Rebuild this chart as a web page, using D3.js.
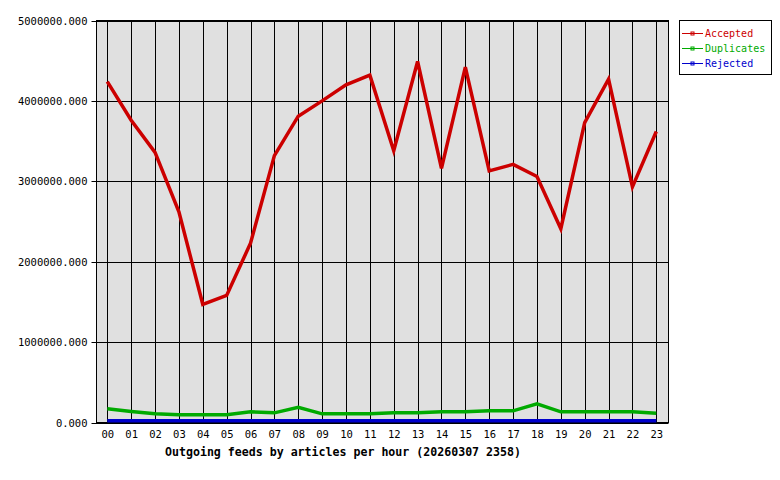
<!DOCTYPE html>
<html><head><meta charset="utf-8">
<script src="https://cdn.jsdelivr.net/npm/d3@7"></script>
<style>body{margin:0;background:#fff}</style>
</head><body>
<svg id="c" width="780" height="480"></svg>
<script>
const hours = ["00","01","02","03","04","05","06","07","08","09","10","11","12","13","14","15","16","17","18","19","20","21","22","23"];
const accepted = [4240000,3760000,3360000,2620000,1470000,1580000,2230000,3320000,3810000,4000000,4200000,4320000,3380000,4490000,3160000,4420000,3130000,3210000,3060000,2410000,3730000,4270000,2930000,3620000];
const duplicates = [170000,137000,108000,96000,96000,96000,133000,120000,190000,108000,108000,108000,120000,120000,133000,133000,145000,145000,232000,133000,133000,133000,133000,116000];
const rejected = [22000,22000,22000,22000,22000,22000,22000,22000,22000,22000,22000,22000,22000,22000,22000,22000,22000,22000,22000,22000,22000,22000,22000,22000];
const yTicks = [0,1000000,2000000,3000000,4000000,5000000];
const seriesNames = ["Accepted","Duplicates","Rejected"];
const seriesColors = ["#cc0000","#00aa00","#0000cc"];
const title = "Outgoing feeds by articles per hour (20260307 2358)";

const svg = d3.select("#c");
const L=96.5, R=668.5, T=20.5, B=422.5;
const x = d3.scalePoint().domain(hours).range([107.3,656.3]);
const y = d3.scaleLinear().domain([0,5000000]).range([B,T]);
const font = "'DejaVu Sans Mono', 'Liberation Mono', monospace";

svg.append("rect").attr("x",L).attr("y",T).attr("width",R-L).attr("height",B-T).attr("fill","#e0e0e0");

// grid
svg.append("g").selectAll("line").data(hours).join("line")
  .attr("x1",d=>Math.round(x(d))+0.5).attr("x2",d=>Math.round(x(d))+0.5)
  .attr("y1",T).attr("y2",B).attr("stroke","#000").attr("stroke-width",1);
svg.append("g").selectAll("line").data(yTicks).join("line")
  .attr("x1",L-5).attr("x2",R).attr("y1",d=>Math.round(y(d))+0.5).attr("y2",d=>Math.round(y(d))+0.5)
  .attr("stroke","#000").attr("stroke-width",1);

svg.append("rect").attr("x",L).attr("y",T).attr("width",R-L).attr("height",B-T)
  .attr("fill","none").attr("stroke","#000").attr("stroke-width",1);

// y labels
svg.append("g").selectAll("text").data(yTicks).join("text")
  .attr("x",L-9).attr("y",d=>y(d)+4).attr("text-anchor","end")
  .attr("font-family",font).attr("font-size","10.5px").attr("fill","#000")
  .text(d=>d3.format(".3f")(d));

// x labels
svg.append("g").selectAll("text").data(hours).join("text")
  .attr("x",d=>x(d)+0.5).attr("y",B+15).attr("text-anchor","middle")
  .attr("font-family",font).attr("font-size","10.5px").attr("fill","#000")
  .text(d=>d);

svg.append("text").attr("x",343).attr("y",B+33).attr("text-anchor","middle")
  .attr("font-family",font).attr("font-size","11.6px").attr("font-weight","bold").attr("fill","#000")
  .text(title);

// lines
const data=[accepted,duplicates,rejected];
const line = d3.line().x((d,i)=>x(hours[i])).y(d=>y(d));
[2,1,0].forEach(k=>{
  svg.append("path").attr("d",line(data[k])).attr("fill","none")
    .attr("stroke",seriesColors[k]).attr("stroke-width",3.5).attr("stroke-linejoin","miter");
});

// legend
const lg = svg.append("g");
lg.append("rect").attr("x",679.5).attr("y",20.5).attr("width",92).attr("height",54)
  .attr("fill","#fff").attr("stroke","#000");
seriesNames.forEach((n,i)=>{
  const yy = 33.5 + i*15;
  lg.append("line").attr("x1",682).attr("x2",703).attr("y1",yy).attr("y2",yy).attr("stroke",seriesColors[i]);
  lg.append("rect").attr("x",691).attr("y",yy-1.5).attr("width",3).attr("height",3)
    .attr("fill","none").attr("stroke",seriesColors[i]).attr("stroke-width",1);
  lg.append("text").attr("x",705).attr("y",yy+3.5).attr("font-family",font).attr("font-size","10px")
    .attr("fill",seriesColors[i]).text(n);
});
</script>
</body></html>
